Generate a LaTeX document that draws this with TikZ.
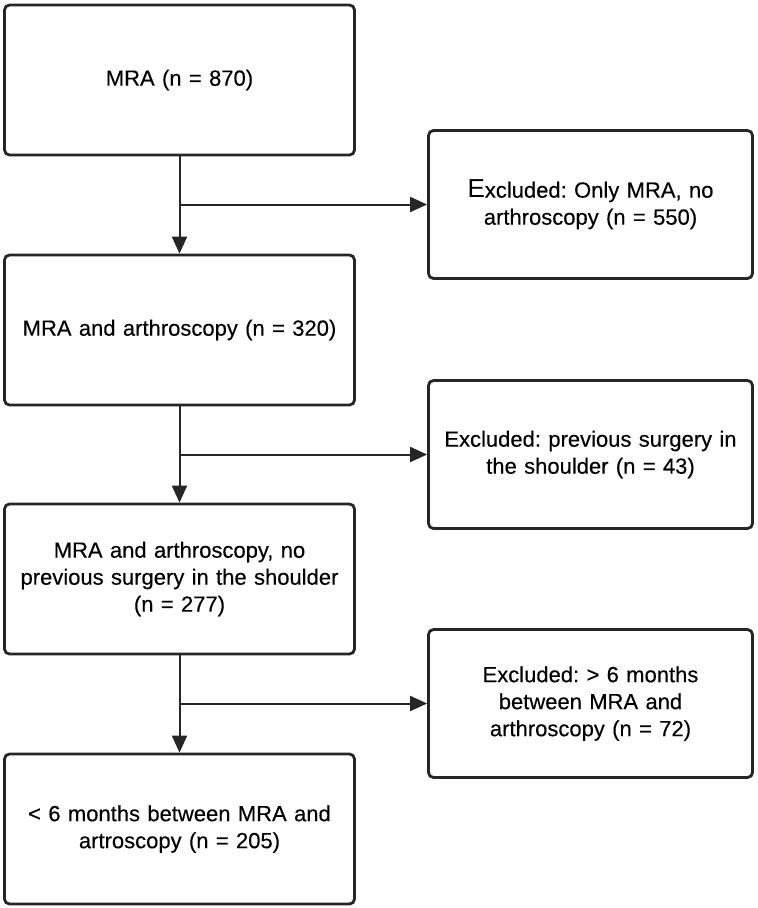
\documentclass[tikz,border=0pt]{standalone}
\usepackage{fontspec}
\setmainfont{Liberation Sans}
\newfontfamily\boxfont{Liberation Sans}[FakeBold=0.3]
\usetikzlibrary{arrows.meta}
\frenchspacing
\begin{document}
\begin{tikzpicture}[x=1pt,y=-1pt,
  box/.style={draw=black!85, line width=2.8pt, rounded corners=5pt, minimum width=#1, align=center, inner sep=0pt,
    font=\boxfont\fontsize{22}{27}\selectfont},
  leftbox/.style={box=350pt, minimum height=150pt, text width=345pt},
  rightbox/.style={box=324pt, minimum height=148pt, text width=320pt},
  conn/.style={draw=black!85, line width=2pt},
  arr/.style={conn, -{Triangle[length=17pt,width=15pt]}}]
\useasboundingbox (0,0) rectangle (758,908);
\node[leftbox] (b1) at (179.5,80) {MRA (n = 870)};
\node[leftbox] (b2) at (179.5,330) {MRA and arthroscopy (n = 320)};
\node[leftbox] (b3) at (179.5,579) {MRA and arthroscopy, no\\previous surgery in the shoulder\\(n = 277)};
\node[leftbox] (b4) at (179.5,829) {< 6 months between MRA and\\artroscopy (n = 205)};
\node[rightbox] (r1) at (590.5,204.5) {{\rmfamily\fontsize{26}{27}\selectfont E}xcluded: Only MRA, no\\arthroscopy (n = 550)};
\node[rightbox] (r2) at (590.5,454.5) {Excluded: previous surgery in\\the shoulder (n = 43)};
\node[rightbox] (r3) at (590.5,703.5) {Excluded: > 6 months\\between MRA and\\arthroscopy (n = 72)};
\draw[arr] (b1.south) -- (b2.north);
\draw[arr] (b2.south) -- (b3.north);
\draw[arr] (b3.south) -- (b4.north);
\draw[arr] (b1.south |- r1.west) -- (r1.west);
\draw[arr] (b2.south |- r2.west) -- (r2.west);
\draw[arr] (b3.south |- r3.west) -- (r3.west);
\end{tikzpicture}
\end{document}
